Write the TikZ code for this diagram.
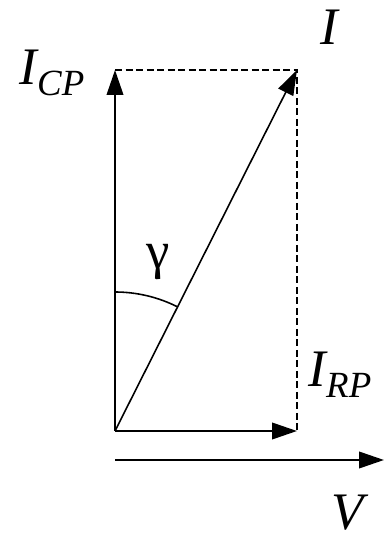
\documentclass[tikz,border=0pt]{standalone}
\usepackage{fontspec}
\setmainfont{Liberation Serif}
\usetikzlibrary{arrows.meta, calc}
\newcommand{\phasor}[2]{\textit{#1}\kern-0.04em\raisebox{-0.2em}{\fontsize{21}{21}\selectfont\textit{#2}}}
\tikzset{
  every picture/.style={line width=1.2pt},
  vec/.style={-{Triangle[length=5mm, width=3.3mm]}, line width=1.3pt},
  guide/.style={dash pattern=on 1.4mm off 0.7mm, line width=1.1pt},
  lab/.style={font=\fontsize{30}{34}\selectfont, inner sep=0pt},
}

\begin{document}
\begin{tikzpicture}
  \useasboundingbox (0,0) rectangle (7.68,10.86);
  % corners of the phasor rectangle
  \coordinate (o) at (2.30,2.24);
  \coordinate (cp) at (2.30,9.46);
  \coordinate (ii) at (5.94,9.46);
  \coordinate (rp) at (5.94,2.24);
  \coordinate (v0) at (2.30,1.66);
  \coordinate (v1) at (7.68,1.66);
  % dashed projections
  \draw[guide] (cp) -- (ii) -- (rp);
  % phasors
  \draw[vec] (o) -- (cp);
  \draw[vec] (o) -- (rp);
  \draw[vec, line width=0.9pt] (o) -- (ii);
  \draw[vec] (v0) -- (v1);
  % angle
  \draw[line width=0.9pt] ($(o)+(0,2.78)$) arc[start angle=90, end angle=63.2, radius=2.78];
  % labels
  \node[lab] (lcp) at (1.04,9.40) {\phasor{I}{CP}};
  \node[lab] (li) at (6.60,10.32) {\textit{I}};
  \node[lab] (lrp) at (6.80,3.36) {\phasor{I}{RP}};
  \node[lab] (lv) at (7.00,0.60) {\textit{V}};
  \node[lab] (lg) at (3.16,5.62) {γ};
\end{tikzpicture}
\end{document}
